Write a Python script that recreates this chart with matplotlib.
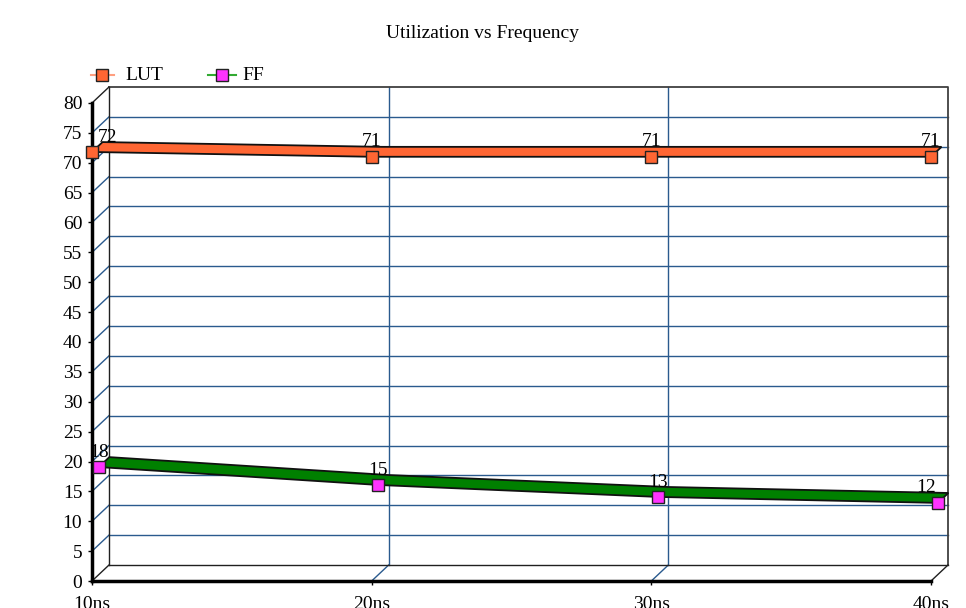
import numpy as np
import matplotlib
matplotlib.use("Agg")
import matplotlib.pyplot as plt
from matplotlib.lines import Line2D
from matplotlib.patches import Polygon

plt.rcParams['font.family'] = ['Liberation Serif', 'DejaVu Serif']

categories = ['10ns', '20ns', '30ns', '40ns']
lut = [71.8, 71, 71, 71]
ff = [18, 15, 13, 12]
yticks = np.arange(0, 81, 5)

W, H = 966, 608
fig = plt.figure(figsize=(W / 100, H / 100), dpi=100)
# front plane of the pseudo-3D plot area (pixels: x 92..931, y 103..581)
ax = fig.add_axes([92 / W, 27 / H, 839 / W, 478 / H])
ax.set_xlim(0, 3)
ax.set_ylim(0, 80)
ax.patch.set_alpha(0)

# depth vector (17px right, 16px up) in data units
DX = 17 / 839 * 3
DY = 16 / 478 * 80

grid_c = '#2a5a8e'
x = np.arange(len(categories))

# back wall gridlines + side wall diagonals
for v in yticks[1:-1]:
    ax.plot([DX, 3 + DX], [v + DY, v + DY], color=grid_c, lw=1, zorder=1, clip_on=False)
    ax.plot([0, DX], [v, v + DY], color=grid_c, lw=1, zorder=1, clip_on=False)
for i in x[1:3]:
    ax.plot([i + DX, i + DX], [DY, 80 + DY], color=grid_c, lw=1, zorder=1, clip_on=False)
for i in x[1:3]:
    ax.plot([i, i + DX], [0, DY], color=grid_c, lw=1, zorder=1, clip_on=False)

# wall borders
k = '#202020'
ax.plot([DX, 3 + DX, 3 + DX], [80 + DY, 80 + DY, DY], color='#404040', lw=1.3, zorder=1, clip_on=False)
ax.plot([DX, DX], [DY, 80 + DY], color=k, lw=1, zorder=1, clip_on=False)
ax.plot([DX, 3 + DX], [DY, DY], color=k, lw=1, zorder=1, clip_on=False)
ax.plot([0, DX], [80, 80 + DY], color=k, lw=1, zorder=1, clip_on=False)
ax.plot([0, DX], [0, DY], color=k, lw=1, zorder=1, clip_on=False)
ax.plot([3, 3 + DX], [0, DY], color=k, lw=1, zorder=1, clip_on=False)


def ribbon(vals, d0, d1, color, z):
    vals = np.asarray(vals, float)
    front = np.column_stack([x + d0 * DX, vals + d0 * DY])
    back = np.column_stack([x + d1 * DX, vals + d1 * DY])
    poly = Polygon(np.vstack([front, back[::-1]]), closed=True, facecolor=color,
                   edgecolor='#111111', lw=1.3, zorder=z, clip_on=False)
    ax.add_patch(poly)


FF_D = 0.4
ribbon(ff, 0.4, 1.02, '#008000', 3)
ribbon(lut, 0.0, 0.62, '#ff6633', 4)

ax.plot(x + FF_D * DX, np.asarray(ff) + FF_D * DY, ls='none', marker='s', ms=8,
        mfc='#ff33ff', mec='#222222', mew=1, zorder=6, clip_on=False)
ax.plot(x, lut, ls='none', marker='s', ms=8,
        mfc='#ff6633', mec='#222222', mew=1, zorder=6, clip_on=False)

lut_dx = [11.5, 0, 0, 0]
ff_dx = [0, 0, 0, -8.5]
for i, v in enumerate(lut):
    ax.annotate(f'{v:.0f}', (x[i], v), xytext=(lut_dx[i], 7.5), textcoords='offset points',
                ha='center', va='baseline', fontsize=14, zorder=7, annotation_clip=False)
for i, v in enumerate(ff):
    ax.annotate(f'{v:.0f}', (x[i] + FF_D * DX, v + FF_D * DY), xytext=(ff_dx[i], 7.5),
                textcoords='offset points', ha='center', va='baseline', fontsize=14, zorder=7,
                annotation_clip=False)

# front axes
for s in ['top', 'right']:
    ax.spines[s].set_visible(False)
for s in ['left', 'bottom']:
    ax.spines[s].set_linewidth(2.5)
    ax.spines[s].set_zorder(5)
ax.set_yticks(yticks)
ax.set_xticks(x)
ax.set_xticklabels(categories)
ax.tick_params(length=3, width=1, labelsize=14, pad=4)
ax.tick_params(axis='x', pad=8)

# title and legend
fig.text(483 / W, 1 - 33 / H, 'Utilization vs Frequency', ha='center', va='center', fontsize=14)
ly = 1 - 75 / H
fig.add_artist(Line2D([91 / W, 114 / W], [ly, ly], color='#ff9f80', lw=1.5))
fig.add_artist(Line2D([102 / W], [ly], marker='s', ms=8, mfc='#ff6633', mec='#222222', ls='none'))
fig.text(125 / W, ly, 'LUT', ha='left', va='center', fontsize=14)
fig.add_artist(Line2D([208 / W, 236 / W], [ly, ly], color='#33aa33', lw=1.5))
fig.add_artist(Line2D([222 / W], [ly], marker='s', ms=8, mfc='#ff33ff', mec='#222222', ls='none'))
fig.text(242 / W, ly, 'FF', ha='left', va='center', fontsize=14)

fig.savefig('out.png', dpi=100)
